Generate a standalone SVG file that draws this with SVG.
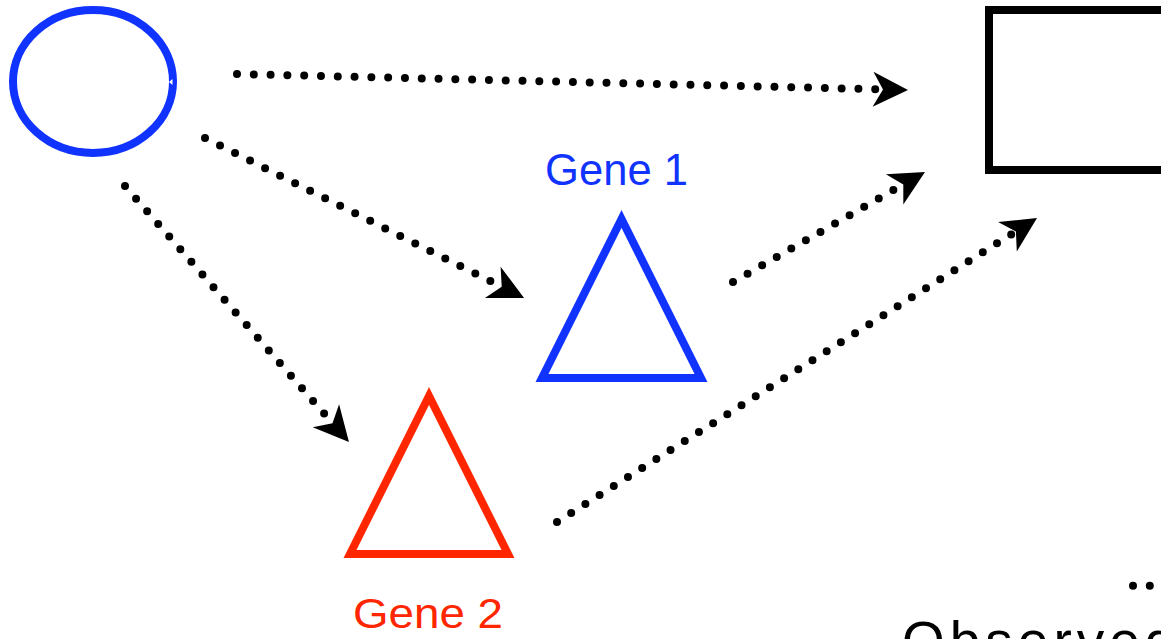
<svg xmlns="http://www.w3.org/2000/svg" width="1161" height="639" viewBox="0 0 1161 639">
  <style>
    .dots { fill: none; stroke: #000; stroke-width: 8; stroke-linecap: round; stroke-dasharray: 0 16.8; }
    .blue { fill: none; stroke: #1133ff; stroke-width: 8; stroke-linejoin: miter; stroke-miterlimit: 10; }
    .red { fill: none; stroke: #ff2600; stroke-width: 8; stroke-linejoin: miter; stroke-miterlimit: 10; }
    .label { font-family: "Liberation Sans", Arial, sans-serif; }
  </style>
  <defs>
    <marker id="head" markerUnits="userSpaceOnUse" markerWidth="40" markerHeight="40" refX="0" refY="0" orient="auto" viewBox="-12 -20 40 40" overflow="visible">
      <path d="M25,0 L-10,-17.5 L0,0 L-10,17.5 Z" fill="#000"/>
    </marker>
  </defs>
  <rect width="1161" height="639" fill="#fff"/>

  <g id="connectors">
    <path class="dots" d="M237,74 L883,89.4" marker-end="url(#head)"/>
    <path class="dots" d="M205,138 L501.7,286.8" marker-end="url(#head)"/>
    <path class="dots" d="M125,186 L332.5,423.2" marker-end="url(#head)"/>
    <path class="dots" d="M733,282 L903.3,184.4" marker-end="url(#head)"/>
    <path class="dots" d="M557,522 L1015.9,231.4" marker-end="url(#head)"/>
    <path class="dots" d="M1133,585.7 L1152,585.7"/>
  </g>

  <g id="source">
    <ellipse cx="93" cy="81.5" rx="80" ry="71.5" fill="none" stroke="#1133ff" stroke-width="8"/>
    <polygon points="169,82 172.5,79 172.5,85" fill="#fff"/>
  </g>

  <g id="observed">
    <rect x="989" y="10" width="200" height="160" fill="none" stroke="#000" stroke-width="8"/>
    <text class="label" x="902" y="660" font-size="55" letter-spacing="5" fill="#000">Observed</text>
  </g>

  <g id="gene1">
    <polygon class="blue" points="621.5,219 542,378 701,378"/>
    <text class="label" x="545" y="185" font-size="44" textLength="143" lengthAdjust="spacingAndGlyphs" fill="#1133ff">Gene 1</text>
  </g>

  <g id="gene2">
    <polygon class="red" points="429,396 350,554 508,554"/>
    <text class="label" x="353" y="628" font-size="43" textLength="150" lengthAdjust="spacingAndGlyphs" fill="#ff2600">Gene 2</text>
  </g>
</svg>
